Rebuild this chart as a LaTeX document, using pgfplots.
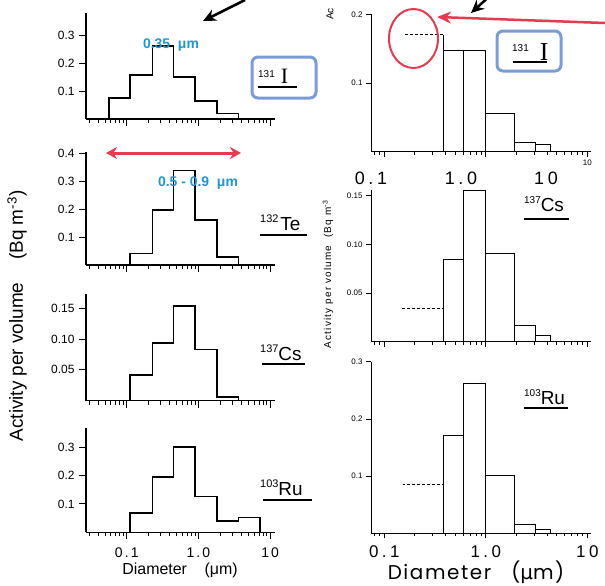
\documentclass[border=0pt]{standalone}
\usepackage{pgfplots}
\pgfplotsset{compat=1.18}
\usepackage{fontspec}
\setmainfont{Liberation Sans}
\newfontfamily\poppins{Poppins}
\newfontfamily\dejavu{DejaVu Sans}
\newfontfamily\serifI{Liberation Serif}
\usetikzlibrary{arrows.meta}
\definecolor{bluebox}{HTML}{7B9BD6}
\definecolor{bluetxt}{HTML}{1E96D4}
\definecolor{redann}{HTML}{E43B50}
\pgfplotsset{
  myLeft/.style={scale only axis, ymin=0,
    axis x line=bottom, axis y line=left, axis line style={-, line width=1.3bp},
    tick align=outside, clip=false, xticklabels={},
    width=189bp, xmin=0.027, xmax=11.7,
    tick style={line width=1bp, black},
    major tick length=7bp, minor tick length=4bp,
    xtick={0.1,1,10},
    minor xtick={0.03,0.04,0.05,0.06,0.07,0.08,0.09,0.2,0.3,0.4,0.5,0.6,0.7,0.8,0.9,2,3,4,5,6,7,8,9},
    yticklabel style={font=\fontsize{12}{12}\selectfont, xshift=-1bp}},
  myRight/.style={scale only axis, ymin=0,
    axis x line=bottom, axis y line=left, axis line style={-, line width=0.9bp},
    tick align=outside, clip=false, xticklabels={},
    width=220bp, xmin=0.0739, xmax=10.87,
    tick style={line width=0.8bp, black},
    major tick length=5bp, minor tick length=3bp,
    xtick={0.1,1,10},
    minor xtick={0.08,0.09,0.2,0.3,0.4,0.5,0.6,0.7,0.8,0.9,2,3,4,5,6,7,8,9},
    yticklabel style={font=\fontsize{8}{8}\selectfont}},
}
\tikzset{
  myStep/.style={const plot, line width=1.6bp, black},
  myBars/.style={ybar interval, fill=white, draw=black, line width=0.8bp},
  myDash/.style={densely dashed, line width=0.8bp, black},
}
\begin{document}
\begin{tikzpicture}
\path[use as bounding box] (0,0) rectangle (605bp,-586bp);

% ---------- left column ----------
\begin{semilogxaxis}[myLeft, /pgf/number format/assume math mode=true,
  at={(86bp,-119bp)}, anchor=south west, height=106bp, ymax=0.379,
  ytick={0.1,0.2,0.3}]
\addplot[myStep] coordinates {(0.056,0) (0.056,0.075) (0.11,0.157) (0.23,0.261) (0.45,0.151) (0.9,0.065) (1.8,0.020) (3.6,0.020) (3.6,0)};
\end{semilogxaxis}

\begin{semilogxaxis}[myLeft, /pgf/number format/assume math mode=true,
  at={(86bp,-265bp)}, anchor=south west, height=113.3bp, ymax=0.407,
  ytick={0.1,0.2,0.3,0.4}]
\addplot[myStep] coordinates {(0.11,0) (0.11,0.042) (0.23,0.198) (0.45,0.339) (0.9,0.162) (1.8,0.028) (3.6,0.028) (3.6,0)};
\end{semilogxaxis}

\begin{semilogxaxis}[myLeft, /pgf/number format/assume math mode=true,
  at={(86bp,-400.7bp)}, anchor=south west, height=106.4bp, ymax=0.1725,
  ytick={0.05,0.10,0.15},
  yticklabel style={/pgf/number format/.cd, fixed, fixed zerofill, precision=2}]
\addplot[myStep] coordinates {(0.11,0) (0.11,0.042) (0.23,0.094) (0.45,0.154) (0.9,0.083) (1.8,0.006) (3.6,0.006) (3.6,0)};
\end{semilogxaxis}

\begin{semilogxaxis}[myLeft, /pgf/number format/assume math mode=true,
  at={(86bp,-532.3bp)}, anchor=south west, height=104bp, ymax=0.367,
  ytick={0.1,0.2,0.3}, xticklabels={0.1,1.0,10},
  xticklabel style={font=\fontsize{14}{14}\selectfont\addfontfeature{LetterSpace=15}, yshift=-5bp}]
\addplot[myStep] coordinates {(0.11,0) (0.11,0.069) (0.23,0.196) (0.45,0.302) (0.9,0.126) (1.8,0.040) (3.6,0.052) (7.2,0.052) (7.2,0)};
\end{semilogxaxis}

% ---------- right column ----------
\begin{semilogxaxis}[myRight, /pgf/number format/assume math mode=true,
  at={(371bp,-151.7bp)}, anchor=south west, height=137.4bp, ymax=0.2,
  ytick={0.1,0.2}, xticklabels={,,10},
  xticklabel style={font=\fontsize{8}{8}\selectfont}]
\addplot[myBars] coordinates {(0.38,0.148) (0.6,0.148) (1.0,0.0556) (1.9,0.0135) (3.1,0.0106) (4.3,0.0106)};
\addplot[line width=0.8bp, black] coordinates {(0.38,0.148) (0.38,0.1705)};
\addplot[myDash] coordinates {(0.16,0.1705) (0.38,0.1705)};
\end{semilogxaxis}

\begin{semilogxaxis}[myRight, /pgf/number format/assume math mode=true,
  at={(371bp,-341.7bp)}, anchor=south west, height=151.7bp, ymax=0.1557,
  ytick={0.05,0.10,0.15},
  yticklabel style={/pgf/number format/.cd, fixed, fixed zerofill, precision=2}]
\addplot[myBars] coordinates {(0.38,0.0846) (0.6,0.155) (1.0,0.0908) (1.9,0.0168) (3.1,0.0068) (4.3,0.0068)};
\addplot[myDash] coordinates {(0.15,0.034) (0.38,0.034)};
\end{semilogxaxis}

\begin{semilogxaxis}[myRight, /pgf/number format/assume math mode=true,
  at={(371bp,-533.3bp)}, anchor=south west, height=171.6bp, ymax=0.3,
  ytick={0.1,0.2,0.3}, xticklabels={0.1,1.0,10},
  xticklabel style={font=\fontsize{17}{17}\selectfont\addfontfeature{LetterSpace=20}, yshift=-4bp}]
\addplot[myBars] coordinates {(0.38,0.171) (0.6,0.262) (1.0,0.101) (1.9,0.016) (3.1,0.0075) (4.3,0.0075)};
\addplot[myDash] coordinates {(0.151,0.085) (0.38,0.085)};
\end{semilogxaxis}

% ---------- axis titles ----------
\node[rotate=90, font=\fontsize{19}{19}\selectfont] at (17bp,-316bp)
  {Activity per volume\hspace{1.2em}(Bq m\textsuperscript{-3})};
\node[font=\fontsize{16}{16}\selectfont] at (180bp,-570bp) {Diameter\hspace{1.1em}(μm)};
\node[rotate=90, font=\fontsize{10}{10}\selectfont\addfontfeature{LetterSpace=12}] at (328bp,-274bp)
  {Activity per volume\hspace{0.8em}(Bq m\textsuperscript{-3}};
\node[rotate=90, font=\fontsize{10}{10}\selectfont] at (330bp,-14bp) {Ac};
\node[font=\poppins\fontsize{20}{20}\selectfont\addfontfeature{LetterSpace=8}] at (476bp,-572bp)
  {Diameter\hspace{1em}({\dejavu\fontsize{20}{20}\selectfont μ}m)};

% big labels under top-right panel
\node[font=\fontsize{18}{18}\selectfont\addfontfeature{LetterSpace=20}] at (371bp,-178bp) {0.1};
\node[font=\fontsize{18}{18}\selectfont\addfontfeature{LetterSpace=20}] at (461bp,-178bp) {1.0};
\node[font=\fontsize{18}{18}\selectfont\addfontfeature{LetterSpace=20}] at (546bp,-178bp) {10};

% ---------- isotope labels ----------
\node[anchor=base west, inner sep=0pt] at (258bp,-83bp)
  {\fontsize{10}{10}\selectfont\raisebox{6bp}{131}\hspace{6bp}{\serifI\fontsize{22}{22}\selectfont I}};
\draw[line width=1.6bp] (258bp,-87bp) -- (297bp,-87bp);
\node[anchor=base west, inner sep=0pt] at (260bp,-230bp)
  {\fontsize{11}{11}\selectfont\raisebox{8bp}{132}\hspace{2bp}{\fontsize{19}{19}\selectfont Te}};
\draw[line width=1.8bp] (260bp,-235bp) -- (307bp,-235bp);
\node[anchor=base west, inner sep=0pt] at (260bp,-360bp)
  {\fontsize{11}{11}\selectfont\raisebox{8bp}{137}{\fontsize{19}{19}\selectfont Cs}};
\draw[line width=1.8bp] (262bp,-364bp) -- (305bp,-364bp);
\node[anchor=base west, inner sep=0pt] at (260bp,-495bp)
  {\fontsize{11}{11}\selectfont\raisebox{8bp}{103}{\fontsize{19}{19}\selectfont Ru}};
\draw[line width=1.8bp] (263bp,-500bp) -- (312bp,-500bp);

\node[anchor=base west, inner sep=0pt] at (512bp,-60bp)
  {\fontsize{10}{10}\selectfont\raisebox{9bp}{131}\hspace{11bp}{\serifI\fontsize{26}{26}\selectfont I}};
\draw[line width=1.5bp] (513bp,-62bp) -- (547bp,-62bp);
\node[anchor=base west, inner sep=0pt] at (524bp,-211bp)
  {\fontsize{10}{10}\selectfont\raisebox{8bp}{137}{\fontsize{19}{19}\selectfont Cs}};
\draw[line width=1.6bp] (524bp,-219bp) -- (569bp,-219bp);
\node[anchor=base west, inner sep=0pt] at (524bp,-404bp)
  {\fontsize{10}{10}\selectfont\raisebox{8bp}{103}{\fontsize{19}{19}\selectfont Ru}};
\draw[line width=1.6bp] (524bp,-408bp) -- (568bp,-408bp);

% ---------- annotations ----------
\draw[bluebox, line width=3bp, rounded corners=6bp] (252bp,-57bp) rectangle (316bp,-98bp);
\draw[bluebox, line width=3bp, rounded corners=6bp] (497bp,-31bp) rectangle (561bp,-71bp);
\node[bluetxt, font=\bfseries\fontsize{14}{14}\selectfont] at (171bp,-45bp) {0.35\ \ μm};
\node[bluetxt, font=\bfseries\fontsize{14}{14}\selectfont] at (198bp,-183bp) {0.5 - 0.9\ \ μm};
\draw[redann, line width=3bp, {Stealth[length=11bp,width=12bp]}-{Stealth[length=11bp,width=12bp]}] (106bp,-153bp) -- (241bp,-153bp);
\draw[black, line width=2.5bp, -{Stealth[length=13bp,width=12bp]}] (245bp,0bp) -- (203bp,-21bp);
\draw[black, line width=2.5bp, -{Stealth[length=13bp,width=12bp]}] (492bp,6bp) -- (471bp,-13bp);
\draw[redann, line width=2.5bp, -{Stealth[length=14bp,width=12bp]}] (605bp,-23bp) -- (437bp,-17bp);
\draw[redann, line width=2bp] (413.5bp,-38.5bp) ellipse [x radius=24.5bp, y radius=29.5bp];
\end{tikzpicture}
\end{document}
